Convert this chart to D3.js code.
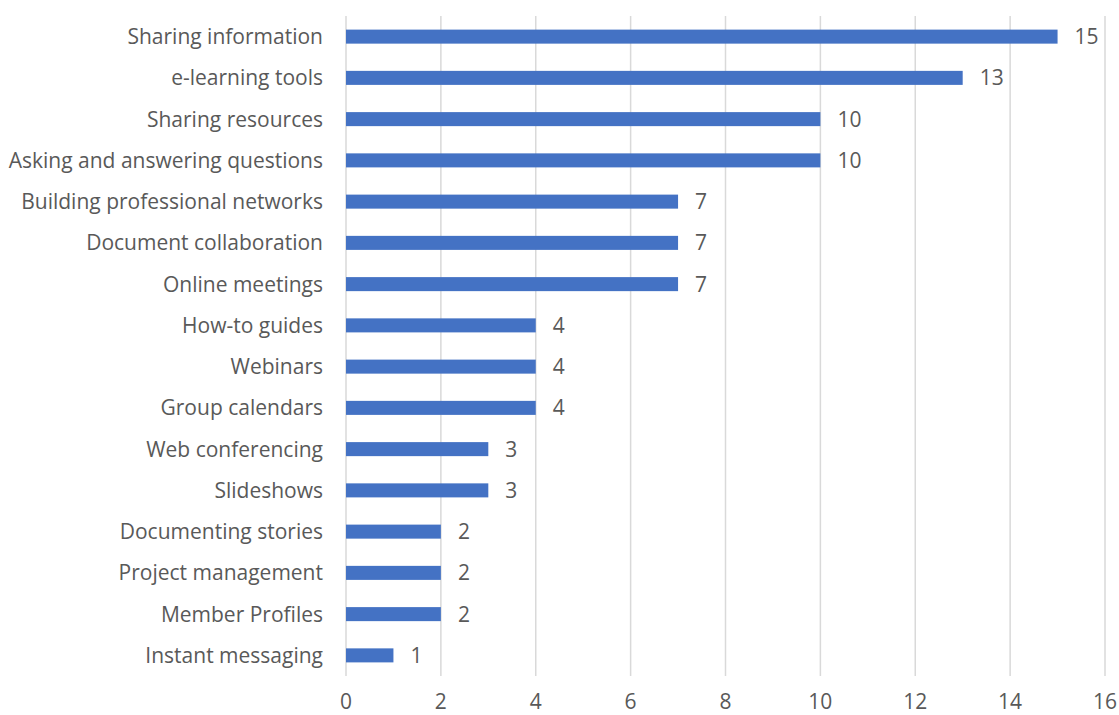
<!DOCTYPE html>
<html><head><meta charset="utf-8">
<script src="https://cdn.jsdelivr.net/npm/d3@7"></script>
<style>body{margin:0;background:#fff;} text{font-family:"Open Sans",Lato,sans-serif;}</style>
</head><body>
<svg id="c" width="1119" height="715"></svg>
<script>
const categories = ["Sharing information","e-learning tools","Sharing resources","Asking and answering questions","Building professional networks","Document collaboration","Online meetings","How-to guides","Webinars","Group calendars","Web conferencing","Slideshows","Documenting stories","Project management","Member Profiles","Instant messaging"];
const values = [15,13,10,10,7,7,7,4,4,4,3,3,2,2,2,1];
const tickValues = [0,2,4,6,8,10,12,14,16];

(function(){
const svg = d3.select("#c");
const mL = 346, mR = 1105, mT = 16, mB = 676;
const x = d3.scaleLinear().domain([0,16]).range([mL,mR]);
const y = d3.scaleBand().domain(categories).range([mT,mB]).paddingInner(0.66).paddingOuter(0.33);
const fs = 21, col = "#595959";

svg.append("g").selectAll("line").data(tickValues).join("line")
  .attr("x1",d=>x(d)).attr("x2",d=>x(d)).attr("y1",mT).attr("y2",mB)
  .attr("stroke","#d9d9d9").attr("stroke-width",1.5);

svg.append("g").selectAll("rect").data(values).join("rect")
  .attr("x",x(0)).attr("y",(d,i)=>y(categories[i]))
  .attr("width",d=>x(d)-x(0)).attr("height",y.bandwidth())
  .attr("fill","#4472C4");

svg.append("g").selectAll("text").data(values).join("text")
  .attr("x",d=>x(d)+17).attr("y",(d,i)=>y(categories[i])+y.bandwidth()/2)
  .attr("dy","0.36em").attr("font-size",fs).attr("fill",col).text(d=>d);

svg.append("g").selectAll("text").data(categories).join("text")
  .attr("x",323).attr("y",d=>y(d)+y.bandwidth()/2).attr("dy","0.36em")
  .attr("text-anchor","end").attr("font-size",fs).attr("fill",col).text(d=>d);

svg.append("g").selectAll("text").data(tickValues).join("text")
  .attr("x",d=>x(d)).attr("y",709)
  .attr("text-anchor","middle").attr("font-size",fs).attr("fill",col).text(d=>d);
})();
</script>
</body></html>
